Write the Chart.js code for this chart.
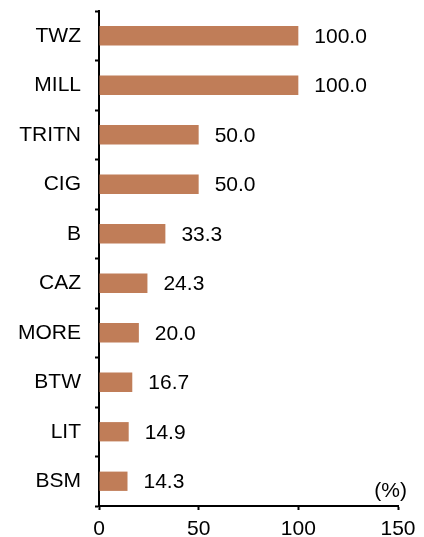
<!DOCTYPE html>
<html>
<head>
<meta charset="utf-8">
<script src="https://cdn.jsdelivr.net/npm/chart.js@4/dist/chart.umd.min.js"></script>
<style>
  html, body { margin: 0; padding: 0; background: #fff; overflow: hidden; }
  #wrap { width: 424px; height: 542px; }
</style>
</head>
<body>
<div id="wrap"><canvas id="chart" width="424" height="542"></canvas></div>
<script>
const categories = ['TWZ', 'MILL', 'TRITN', 'CIG', 'B', 'CAZ', 'MORE', 'BTW', 'LIT', 'BSM'];
const values = [100.0, 100.0, 50.0, 50.0, 33.3, 24.3, 20.0, 16.7, 14.9, 14.3];
const xTicks = [0, 50, 100, 150];
const unitLabel = '(%)';

const BAR_COLOR = '#c07d58';
const FONT = "Arial, 'Liberation Sans', sans-serif";
const FONT_SIZE = 21;

Chart.defaults.font.family = FONT;
Chart.defaults.font.size = FONT_SIZE;
Chart.defaults.color = '#000';

// value at the end of each bar + the unit note above the x axis
const labelsPlugin = {
    id: 'barLabels',
    afterDatasetsDraw(chart) {
        const ctx = chart.ctx;
        const meta = chart.getDatasetMeta(0);
        ctx.save();
        ctx.font = FONT_SIZE + 'px ' + FONT;
        ctx.fillStyle = '#000';
        ctx.textBaseline = 'middle';
        ctx.textAlign = 'left';
        meta.data.forEach((bar, i) => {
            ctx.fillText(values[i].toFixed(1), bar.x + 16, bar.y + 1);
        });
        const area = chart.chartArea;
        ctx.textAlign = 'right';
        ctx.fillText(unitLabel, area.right + 9, area.bottom - 15);
        ctx.restore();
    }
};

new Chart(document.getElementById('chart'), {
    type: 'bar',
    data: {
        labels: categories,
        datasets: [{
            data: values,
            backgroundColor: BAR_COLOR,
            borderWidth: 0,
            categoryPercentage: 1,
            barPercentage: 0.39
        }]
    },
    options: {
        indexAxis: 'y',
        responsive: false,
        animation: false,
        layout: { padding: { top: 11, right: 26, left: 0, bottom: 0 } },
        plugins: {
            legend: { display: false },
            tooltip: { enabled: false }
        },
        scales: {
            x: {
                min: xTicks[0],
                max: xTicks[xTicks.length - 1],
                afterBuildTicks: axis => { axis.ticks = xTicks.map(v => ({ value: v })); },
                afterFit: axis => {
                    axis.height = 36;
                    axis.paddingLeft = 0;
                    axis.paddingRight = 0;
                },
                grid: { drawOnChartArea: false, tickLength: 4, tickWidth: 2, tickColor: '#000' },
                border: { color: '#000', width: 2 },
                ticks: { padding: 7, maxRotation: 0 }
            },
            y: {
                afterFit: axis => {
                    axis.width = 99;
                    axis.paddingTop = 0;
                    axis.paddingBottom = 0;
                },
                grid: { drawOnChartArea: false, tickLength: 4, tickWidth: 2, tickColor: '#000', offset: true },
                border: { color: '#000', width: 2 },
                ticks: { padding: 14 }
            }
        }
    },
    plugins: [labelsPlugin]
});
</script>
</body>
</html>
